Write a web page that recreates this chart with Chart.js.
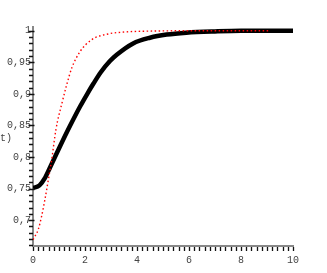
<!DOCTYPE html>
<html>
<head>
<meta charset="utf-8">
<script src="https://cdn.jsdelivr.net/npm/chart.js@4.4.0/dist/chart.umd.min.js"></script>
<style>
  html, body { margin: 0; padding: 0; background: #fff; }
  #wrap { width: 327px; height: 273px; position: relative; }
</style>
</head>
<body>
<div id="wrap"><canvas id="cdf"></canvas></div>
<script>
// values
const blackT = [0, 0.25, 0.45, 0.65, 1.04, 1.42, 1.81, 2.1, 2.32, 2.6, 2.96, 3.22, 3.85, 4.5, 5.14, 5.9, 7, 8, 10];
const blackF = [0.751, 0.755, 0.766, 0.783, 0.817, 0.849, 0.880, 0.901, 0.916, 0.934, 0.952, 0.962, 0.980, 0.989, 0.994, 0.997, 0.999, 1, 1];
const redT = [0, 0.2, 0.33, 0.46, 0.59, 0.72, 0.88, 1.13, 1.3, 1.49, 1.81, 2.26, 2.89, 3.5, 4.5, 6, 9.1];
const redF = [0.669, 0.685, 0.706, 0.733, 0.764, 0.796, 0.843, 0.888, 0.915, 0.941, 0.967, 0.986, 0.995, 0.998, 0.9995, 1, 1];

// ticks
const xTicks = [];
for (let i = 0; i <= 50; i++) xTicks.push(i / 5);
const xLabels = [0, 2, 4, 6, 8, 10];
const yTicks = [];
for (let i = 66; i <= 100; i++) yTicks.push(i / 100);
const yLabels = [0.7, 0.75, 0.8, 0.85, 0.9, 0.95, 1];

const toPts = (ts, vs) => ts.map((t, i) => ({ x: t, y: vs[i] }));
const comma = v => String(v).replace('.', ',');
const isLabel = (list, v) => list.some(l => Math.abs(l - v) < 1e-6);

// tick marks drawn by hand (short dashes off the axis lines)
const tickMarks = {
    id: 'tickMarks',
    afterDraw(chart) {
        const ctx = chart.ctx;
        const xs = chart.scales.x, ys = chart.scales.y;
        const area = chart.chartArea;
        ctx.save();
        ctx.strokeStyle = '#111';
        ctx.lineWidth = 1.3;
        ctx.beginPath();
        xTicks.forEach(v => {
            const px = Math.round(xs.getPixelForValue(v)) + 0.5;
            ctx.moveTo(px, area.bottom + 1);
            ctx.lineTo(px, area.bottom + 5);
        });
        yTicks.forEach(v => {
            const py = Math.round(ys.getPixelForValue(v)) + 0.5;
            const major = isLabel(yLabels, v);
            ctx.moveTo(area.left - (major ? 4.5 : 4), py);
            ctx.lineTo(area.left + (major ? 1.5 : 0), py);
        });
        ctx.stroke();
        // stray axis title fragment on the left edge
        ctx.font = '10px "Liberation Mono", monospace';
        ctx.fillStyle = '#444';
        ctx.textBaseline = 'middle';
        ctx.fillText('t)', 0, 138);
        ctx.restore();
    }
};

const tickFont = { family: '"Liberation Mono", monospace', size: 10 };
const gridOpts = { display: false, drawTicks: true, tickLength: 4 };

new Chart(document.getElementById('cdf').getContext('2d'), {
    type: 'line',
    data: {
        datasets: [
            {
                data: toPts(blackT, blackF),
                borderColor: '#000',
                borderWidth: 4.5,
                pointRadius: 0,
                cubicInterpolationMode: 'monotone',
                order: 2
            },
            {
                data: toPts(redT, redF),
                borderColor: '#ff0000',
                borderWidth: 1.4,
                borderDash: [1.5, 2.5],
                pointRadius: 0,
                cubicInterpolationMode: 'monotone',
                order: 1
            }
        ]
    },
    plugins: [tickMarks],
    options: {
        responsive: true,
        maintainAspectRatio: false,
        animation: false,
        layout: { padding: { top: 27, right: 34, left: 0, bottom: 0 } },
        plugins: { legend: { display: false }, tooltip: { enabled: false } },
        scales: {
            x: {
                type: 'linear',
                min: 0,
                max: 10,
                afterBuildTicks: s => { s.ticks = xTicks.map(v => ({ value: v })); },
                afterFit: s => { s.height = 27; },
                grid: gridOpts,
                border: { display: true, color: '#888', width: 2 },
                ticks: {
                    autoSkip: false,
                    maxRotation: 0,
                    padding: 4,
                    color: '#444',
                    font: tickFont,
                    callback: v => isLabel(xLabels, v) ? String(Math.round(v)) : ''
                }
            },
            y: {
                type: 'linear',
                min: 0.659,
                max: 1.006,
                afterBuildTicks: s => { s.ticks = yTicks.map(v => ({ value: v })); },
                afterFit: s => { s.width = 33; },
                grid: gridOpts,
                border: { display: true, color: '#888', width: 2 },
                ticks: {
                    autoSkip: false,
                    padding: -2,
                    color: '#444',
                    font: tickFont,
                    callback: v => {
                        const l = yLabels.find(l => Math.abs(l - v) < 1e-6);
                        return l === undefined ? '' : comma(l);
                    }
                }
            }
        }
    }
});
</script>
</body>
</html>
